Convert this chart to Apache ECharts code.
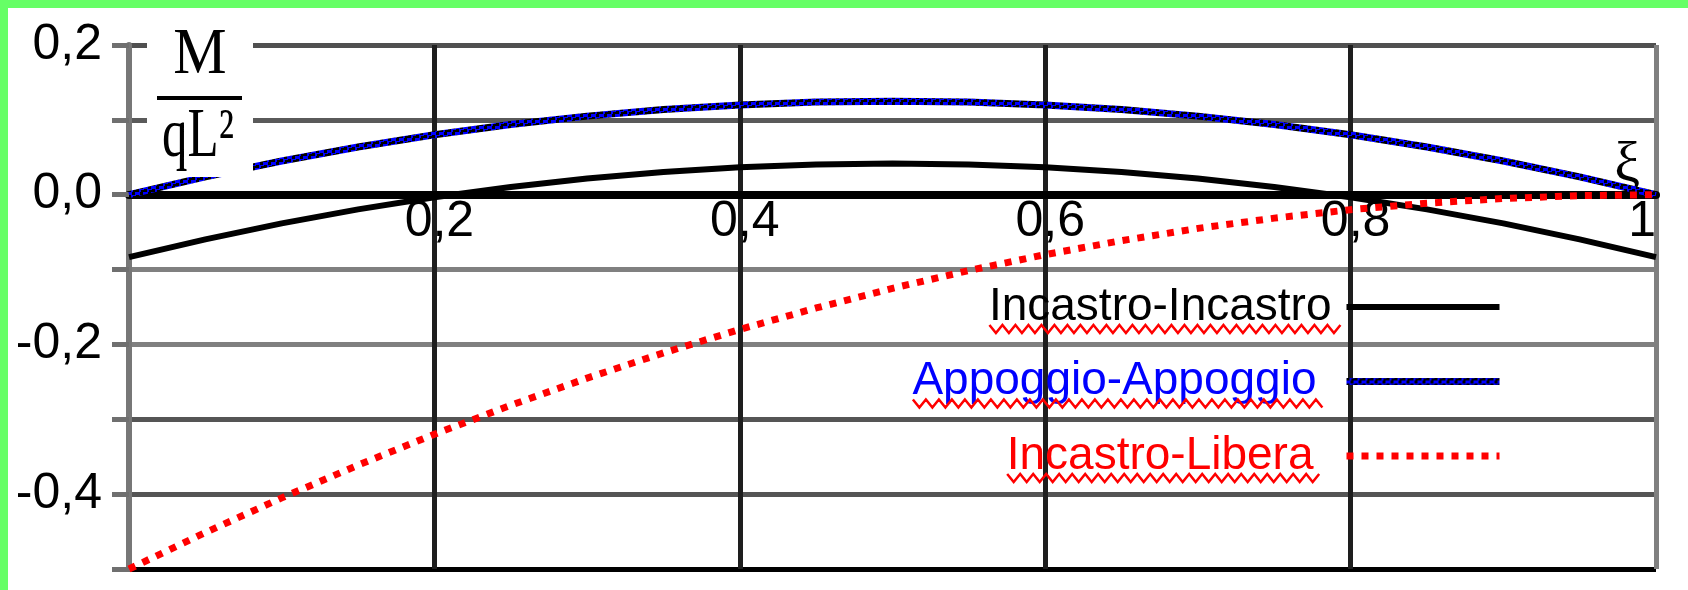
<!DOCTYPE html>
<html>
<head>
<meta charset="utf-8">
<script src="https://cdn.jsdelivr.net/npm/echarts@6/dist/echarts.min.js"></script>
<style>
  html, body { margin: 0; padding: 0; background: #fff; }
  #chart { width: 1688px; height: 590px; }
</style>
</head>
<body>
<div id="chart"></div>
<script>
// Abscissa ξ = x / L along the beam
const xi = [0, 0.05, 0.1, 0.15, 0.2, 0.25, 0.3, 0.35, 0.4, 0.45, 0.5,
            0.55, 0.6, 0.65, 0.7, 0.75, 0.8, 0.85, 0.9, 0.95, 1];

// Bending moment M / qL² for each support condition
const incastroIncastro = [-0.0833, -0.0596, -0.0383, -0.0196, -0.0033, 0.0104, 0.0217, 0.0304, 0.0367, 0.0404, 0.0417,
                          0.0404, 0.0367, 0.0304, 0.0217, 0.0104, -0.0033, -0.0196, -0.0383, -0.0596, -0.0833];
const appoggioAppoggio = [0, 0.0238, 0.0450, 0.0638, 0.0800, 0.0938, 0.1050, 0.1138, 0.1200, 0.1238, 0.1250,
                          0.1238, 0.1200, 0.1138, 0.1050, 0.0938, 0.0800, 0.0638, 0.0450, 0.0238, 0];
const incastroLibera = [-0.5000, -0.4513, -0.4050, -0.3613, -0.3200, -0.2813, -0.2450, -0.2113, -0.1800, -0.1513, -0.1250,
                        -0.1013, -0.0800, -0.0613, -0.0450, -0.0313, -0.0200, -0.0113, -0.0050, -0.0013, 0];

const seriesNames = ['Incastro-Incastro', 'Appoggio-Appoggio', 'Incastro-Libera'];
const seriesTextColors = ['#000000', '#0000ff', '#ff0000'];

// Tick labels (decimal comma)
const xTickValues = [0.2, 0.4, 0.6, 0.8, 1];
const xTickLabels = ['0,2', '0,4', '0,6', '0,8', '1'];
const yTickValues = [0.2, 0, -0.2, -0.4];
const yTickLabels = ['0,2', '0,0', '-0,2', '-0,4'];

const Y_MIN = -0.5, Y_MAX = 0.2;

function pairs(ys) { return xi.map((x, i) => [x, ys[i]]); }

function lookupLabel(values, labels, v) {
  for (let i = 0; i < values.length; i++) {
    if (Math.abs(values[i] - v) < 1e-6) return labels[i];
  }
  return '';
}

// blue stroke speckled with black for the simply supported beam
function speckledPattern() {
  const c = document.createElement('canvas');
  c.width = 8; c.height = 6;
  const g = c.getContext('2d');
  g.fillStyle = '#0000ff'; g.fillRect(0, 0, 8, 6);
  g.fillStyle = '#000000';
  g.fillRect(4, 0, 3, 3);
  g.fillRect(0, 3, 3, 3);
  g.fillRect(5, 4, 3, 2);
  return c;
}

const W = 1688, H = 590;
const grid = { left: 129, right: 32, top: 45, bottom: 21 };
const plotH = H - grid.top - grid.bottom;
// the ξ axis runs along M = 0, so lift it from the bottom edge to that level
const zeroLift = -plotH * (0 - Y_MIN) / (Y_MAX - Y_MIN);

const legendFont = 46;
const legendFamily = '"Liberation Sans", Arial, sans-serif';
const serifFamily = '"Liberation Serif", "Times New Roman", serif';
const legendPadRight = [10, 25, 28];

const chart = echarts.init(document.getElementById('chart'), null, { renderer: 'canvas' });

const option = {
  animation: false,
  backgroundColor: '#ffffff',
  grid: Object.assign({ containLabel: false, outerBoundsMode: 'none' }, grid),
  xAxis: {
    type: 'value', min: 0, max: 1, interval: 0.2,
    position: 'bottom', offset: zeroLift,
    name: 'ξ', nameLocation: 'end', nameGap: -16,
    nameTextStyle: { fontFamily: serifFamily, fontSize: 58, color: '#000',
                     align: 'right', verticalAlign: 'bottom', lineHeight: 58 },
    axisLine: { show: true, onZero: false, lineStyle: { color: '#000', width: 8 } },
    axisTick: { show: false },
    axisLabel: {
      fontFamily: legendFamily, fontSize: 50, color: '#000', margin: 3,
      padding: [0, 0, 0, 10], showMinLabel: true, showMaxLabel: true, alignMaxLabel: 'right',
      formatter: v => lookupLabel(xTickValues, xTickLabels, v)
    },
    splitLine: { show: true, lineStyle: { color: ['#777777', '#1e1e1e', '#1e1e1e', '#1e1e1e', '#1e1e1e', '#808080'], width: 5 } }
  },
  yAxis: {
    type: 'value', min: Y_MIN, max: Y_MAX, interval: 0.1,
    axisLine: { show: true, onZero: false, lineStyle: { color: '#777777', width: 6 } },
    axisTick: { show: true, length: 17, lineStyle: { color: '#6f6f6f', width: 5 } },
    axisLabel: {
      fontFamily: legendFamily, fontSize: 50, color: '#000', margin: 27,
      padding: [14, 0, 0, 0], showMinLabel: true, showMaxLabel: true,
      formatter: v => lookupLabel(yTickValues, yTickLabels, v)
    },
    splitLine: { show: true, lineStyle: { color: ['#000000', '#555555', '#555555', '#808080', '#808080', '#000000', '#5a5a5a', '#505050'], width: 5 } }
  },
  legend: {
    orient: 'vertical', align: 'right', right: 185, top: 284, padding: 0,
    itemWidth: 153, itemHeight: 14, itemGap: 28.5,
    selectedMode: false,
    itemStyle: { opacity: 0 },
    lineStyle: { width: 'inherit' },
    textStyle: { fontFamily: legendFamily, fontSize: legendFont, lineHeight: 46 },
    data: seriesNames.map((n, i) => ({
      name: n,
      textStyle: { color: seriesTextColors[i], padding: [0, legendPadRight[i], 0, 0] }
    }))
  },
  series: [
    {
      name: seriesNames[0], type: 'line', data: pairs(incastroIncastro),
      smooth: false, symbol: 'none', showSymbol: false, z: 3,
      lineStyle: { color: '#000000', width: 6 }, itemStyle: { color: '#000000' }
    },
    {
      name: seriesNames[1], type: 'line', data: pairs(appoggioAppoggio),
      smooth: false, symbol: 'none', showSymbol: false, z: 4,
      lineStyle: { color: { image: speckledPattern(), repeat: 'repeat' }, width: 7 },
      itemStyle: { color: '#0000ff' }
    },
    {
      name: seriesNames[2], type: 'line', data: pairs(incastroLibera),
      smooth: false, symbol: 'none', showSymbol: false, z: 5,
      lineStyle: { color: '#ff0000', width: 7, type: [7, 8] }, itemStyle: { color: '#ff0000' }
    }
  ],
  graphic: []
};

chart.setOption(option);

// Spell-check style wavy underlines beneath the legend labels, the axis title and the frame
function buildOverlay() {
  const ctx = document.createElement('canvas').getContext('2d');
  ctx.font = legendFont + 'px ' + legendFamily;
  const iconLeft = W - 185 - 153;
  const rowCenters = [284 + 23, 284 + 23 + 74.5, 284 + 23 + 149];
  const baseOffset = 16;
  const els = [];
  seriesNames.forEach((n, i) => {
    const w = ctx.measureText(n).width;
    const right = iconLeft - 5 - legendPadRight[i];
    const left = right - w;
    const y0 = rowCenters[i] + baseOffset + 2;
    const pts = [];
    let up = true;
    for (let x = left - 3; x <= right + 7; x += 6.5) {
      pts.push([x, up ? y0 : y0 + 8]);
      up = !up;
    }
    els.push({ type: 'polyline', shape: { points: pts }, style: { stroke: '#ff0000', lineWidth: 2.5, fill: null }, z: 60, silent: true });
  });

  // axis title  M / qL²
  els.push({ type: 'rect', shape: { x: 147, y: 40, width: 106, height: 137 }, style: { fill: '#ffffff' }, z: 50, silent: true });
  els.push({ type: 'text', x: 200, y: 56, scaleY: 1.08, style: { text: 'M', fontSize: 60, fontFamily: serifFamily, fill: '#000', align: 'center', verticalAlign: 'middle' }, z: 51, silent: true });
  els.push({ type: 'rect', shape: { x: 157, y: 96, width: 85, height: 4 }, style: { fill: '#000000' }, z: 51, silent: true });
  els.push({ type: 'text', x: 198, y: 138, scaleX: 0.85, scaleY: 1.15, style: { text: 'qL²', fontSize: 60, fontFamily: serifFamily, fill: '#000', align: 'center', verticalAlign: 'middle' }, z: 51, silent: true });

  // frame strips along the top and left edges
  els.push({ type: 'rect', shape: { x: 0, y: 0, width: W, height: 8 }, style: { fill: '#66ff66' }, z: 100, silent: true });
  els.push({ type: 'rect', shape: { x: 0, y: 0, width: 8, height: H }, style: { fill: '#66ff66' }, z: 100, silent: true });
  return els;
}

chart.setOption({ graphic: buildOverlay() });
</script>
</body>
</html>
